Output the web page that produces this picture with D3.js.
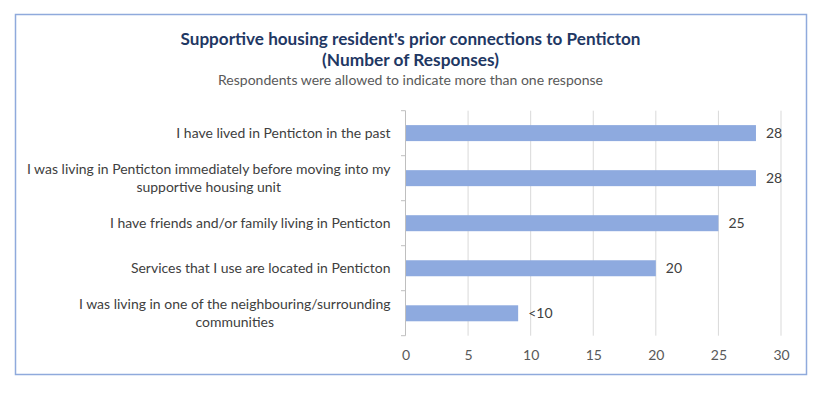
<!DOCTYPE html>
<html>
<head>
<meta charset="utf-8">
<script src="https://cdn.jsdelivr.net/npm/d3@7"></script>
<style>
  body { margin: 0; background: #fff; }
  svg { display: block; }
</style>
</head>
<body>
<script>
// datos del gráfico
const categories = [
  ["I have lived in Penticton in the past"],
  ["I was living in Penticton immediately before moving into my", "supportive housing unit"],
  ["I have friends and/or family living in Penticton"],
  ["Services that I use are located in Penticton"],
  ["I was living in one of the neighbouring/surrounding", "communities"]
];
const values = [28, 28, 25, 20, 9];
const valueLabels = ["28", "28", "25", "20", "<10"];
const xTicks = [0, 5, 10, 15, 20, 25, 30];

const width = 821, height = 395;
const font = "Lato, 'Open Sans', sans-serif";

const svg = d3.select("body").append("svg")
  .attr("width", width)
  .attr("height", height);

// marco
svg.append("rect")
  .attr("x", 15.5).attr("y", 14.5)
  .attr("width", 791).attr("height", 360)
  .attr("fill", "#fff")
  .attr("stroke", "#8faadc")
  .attr("stroke-width", 1.5);

// títulos (comprimidos al ancho del original, letra estrecha)
svg.append("text")
  .attr("x", 410.5).attr("y", 45)
  .attr("text-anchor", "middle")
  .attr("textLength", 460).attr("lengthAdjust", "spacingAndGlyphs")
  .style("font-family", font).style("font-weight", "bold")
  .style("font-size", "17.5px").attr("fill", "#1f3864")
  .text("Supportive housing resident's prior connections to Penticton");
svg.append("text")
  .attr("x", 410.5).attr("y", 66)
  .attr("text-anchor", "middle")
  .attr("textLength", 177).attr("lengthAdjust", "spacingAndGlyphs")
  .style("font-family", font).style("font-weight", "bold")
  .style("font-size", "17.5px").attr("fill", "#1f3864")
  .text("(Number of Responses)");
svg.append("text")
  .attr("x", 410.5).attr("y", 85)
  .attr("text-anchor", "middle")
  .attr("textLength", 385).attr("lengthAdjust", "spacingAndGlyphs")
  .style("font-family", font)
  .style("font-size", "14px").attr("fill", "#595959")
  .text("Respondents were allowed to indicate more than one response");

// escalas
const x = d3.scaleLinear().domain([0, 30]).range([405.5, 781]);
const y = d3.scaleBand().domain(d3.range(values.length)).range([110.7, 335.7])
  .paddingInner(0.645).paddingOuter(0.32);

// rejilla
svg.append("g").selectAll("line")
  .data(xTicks.slice(1))
  .join("line")
  .attr("x1", d => x(d)).attr("x2", d => x(d))
  .attr("y1", 110.7).attr("y2", 335.7)
  .attr("stroke", "#d9d9d9").attr("stroke-width", 1);

// eje x (solo etiquetas)
const xAxis = svg.append("g")
  .attr("transform", "translate(0,335.7)")
  .call(d3.axisBottom(x).tickValues(xTicks).tickSize(0).tickPadding(14));
xAxis.select(".domain").remove();
xAxis.selectAll("text")
  .style("font-family", font).style("font-size", "14px").attr("fill", "#595959");

// eje y
const band = 45;
svg.append("line")
  .attr("x1", 405.5).attr("x2", 405.5)
  .attr("y1", 110.7).attr("y2", 335.7)
  .attr("stroke", "#bfbfbf");
svg.append("g").selectAll("line")
  .data(d3.range(values.length + 1))
  .join("line")
  .attr("x1", 401).attr("x2", 405.5)
  .attr("y1", d => 110.7 + d * band).attr("y2", d => 110.7 + d * band)
  .attr("stroke", "#bfbfbf");

// barras
svg.append("g").selectAll("rect")
  .data(values)
  .join("rect")
  .attr("x", x(0) + 0.5)
  .attr("y", (d, i) => y(i))
  .attr("width", d => x(d) - x(0) - 0.5)
  .attr("height", y.bandwidth())
  .attr("fill", "#8eaadf");

// etiquetas de valor
svg.append("g").selectAll("text")
  .data(values)
  .join("text")
  .attr("x", d => x(d) + 10)
  .attr("y", (d, i) => y(i) + y.bandwidth() / 2)
  .attr("dy", "0.35em")
  .style("font-family", font).style("font-size", "14px").attr("fill", "#404040")
  .text((d, i) => valueLabels[i]);

// etiquetas de categoría: tamaño calculado a partir de la línea más larga
const probe = svg.append("text")
  .style("font-family", font).style("font-size", "14px")
  .text(categories[1][0]);
const catSize = 14 * 364 / probe.node().getComputedTextLength();
probe.remove();

const catG = svg.append("g");
categories.forEach((lines, i) => {
  const cy = y(i) + y.bandwidth() / 2;
  const lh = 17.5;
  const g = catG.append("g");
  const texts = g.selectAll("text")
    .data(lines)
    .join("text")
    .attr("y", (d, j) => cy + (j - (lines.length - 1) / 2) * lh)
    .attr("dy", "0.35em")
    .attr("text-anchor", "middle")
    .style("font-family", font).style("font-size", catSize + "px").attr("fill", "#404040")
    .text(d => d);
  const maxW = d3.max(texts.nodes(), n => n.getComputedTextLength());
  texts.attr("x", 390.5 - maxW / 2);
});
</script>
</body>
</html>
